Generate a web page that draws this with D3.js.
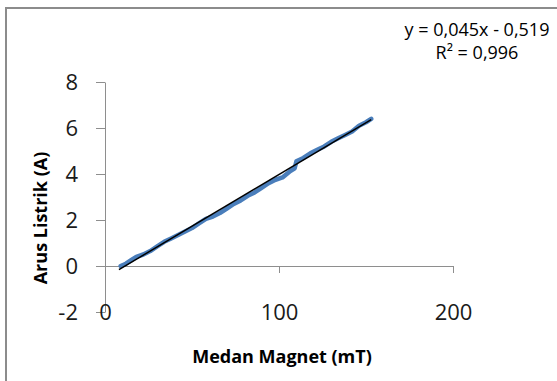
<!DOCTYPE html>
<html><head><meta charset="utf-8">
<script src="https://cdn.jsdelivr.net/npm/d3@7"></script>
<style>html,body{margin:0;padding:0;background:#fff;overflow:hidden}</style>
</head><body><svg id="c" width="557" height="381"></svg>
<script>
const medan = [9,12,15,18,22,26,30,34,38,42,46,50,54,58,62,66,70,74,78,82,86,90,94,98,102,106,109,110,114,118,122,126,130,134,138,142,146,150,153];
const arus = [0.0,0.1,0.25,0.4,0.5,0.65,0.85,1.05,1.2,1.35,1.5,1.65,1.85,2.05,2.15,2.3,2.5,2.7,2.85,3.05,3.2,3.4,3.6,3.75,3.85,4.1,4.25,4.55,4.7,4.9,5.05,5.2,5.4,5.55,5.7,5.85,6.1,6.25,6.4];
const xTicks = [0,100,200];
const yTicks = [-2,0,2,4,6,8];
const slope = 0.045, intercept = -0.519;
const trendX = [8,153];
const eqLines = ["y = 0,045x - 0,519","R² = 0,996"];
const xTitle = "Medan Magnet (mT)";
const yTitle = "Arus Listrik (A)";

const svg = d3.select("#c");
const font = "'Open Sans', sans-serif";
svg.append("rect").attr("x",6).attr("y",8).attr("width",560).attr("height",380)
  .attr("fill","#fff").attr("stroke","#8c8c8c").attr("stroke-width",2);

const x = d3.scaleLinear().domain([0,200]).range([105,453]);
const y = d3.scaleLinear().domain([-2,8]).range([312,82]);
const fmt = d => String(d);

// y axis
const ya = svg.append("g").attr("transform","translate(105,0)")
  .call(d3.axisLeft(y).tickValues(yTicks).tickSize(9).tickSizeOuter(0).tickFormat(fmt));
ya.select(".domain").attr("stroke","#8e8e8e");
ya.selectAll(".tick line").attr("stroke","#8e8e8e");
ya.selectAll(".tick text").attr("font-family",font).attr("font-size",22).attr("fill","#1a1a1a").attr("x",-27);

// x axis at y=0
const xa = svg.append("g").attr("transform",`translate(0,${y(0)})`)
  .call(d3.axisBottom(x).tickValues(xTicks).tickSize(7).tickSizeOuter(0).tickFormat(fmt));
xa.select(".domain").attr("stroke","#8e8e8e");
xa.selectAll(".tick line").attr("stroke","#8e8e8e").attr("opacity",d=>d===0?0:1);
xa.selectAll(".tick text").attr("font-family",font).attr("font-size",22).attr("fill","#1a1a1a")
  .attr("dy",null).attr("y",y(-2)-y(0)+8);

// data line
svg.append("path").datum(medan.map((m,i)=>[m,arus[i]]))
  .attr("fill","none").attr("stroke","#4a7ebb").attr("stroke-width",4.5).attr("stroke-linejoin","round").attr("stroke-linecap","round")
  .attr("d",d3.line().x(d=>x(d[0])).y(d=>y(d[1])));

// trendline
svg.append("path").datum(trendX.map(v=>[v,slope*v+intercept]))
  .attr("fill","none").attr("stroke","#000").attr("stroke-width",1.5)
  .attr("d",d3.line().x(d=>x(d[0])).y(d=>y(d[1])));

// equation
svg.append("g").selectAll("text").data(eqLines).join("text")
  .attr("x",477).attr("y",(d,i)=>36+i*23).attr("text-anchor","middle")
  .attr("font-family",font).attr("font-size",18).attr("fill","#000").text(d=>d);

// titles
svg.append("text").attr("x",282).attr("y",363).attr("text-anchor","middle")
  .attr("font-family",font).attr("font-weight","bold").attr("font-size",18).attr("fill","#000").text(xTitle);
svg.append("text").attr("transform","translate(47,218) rotate(-90)").attr("text-anchor","middle")
  .attr("font-family",font).attr("font-weight","bold").attr("font-size",18).attr("fill","#000").text(yTitle);
</script></body></html>
